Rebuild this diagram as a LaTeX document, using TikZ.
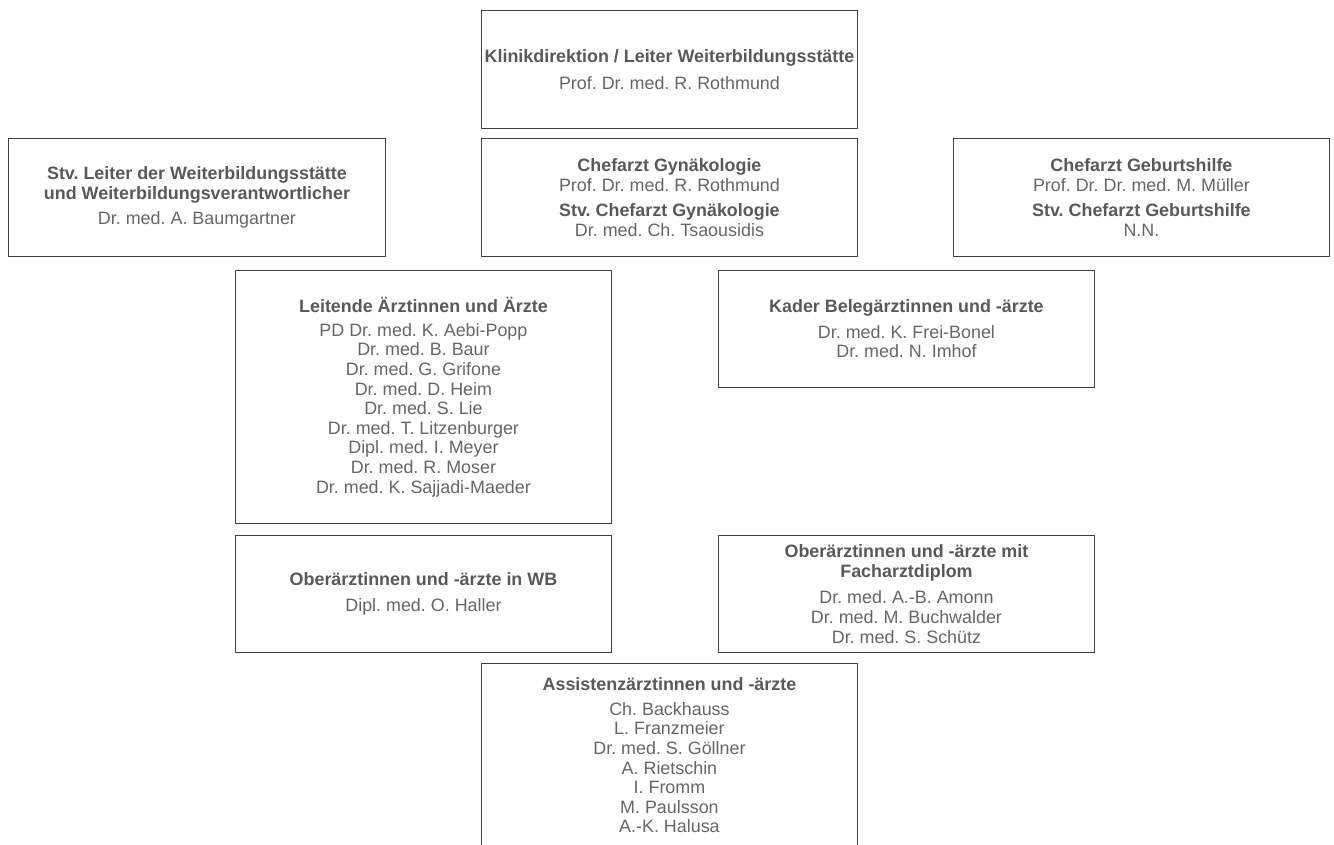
\documentclass[tikz,border=0pt]{standalone}
\usepackage{fontspec}
\setmainfont{Liberation Sans}
\frenchspacing
\definecolor{bordergray}{HTML}{404040}
\definecolor{titlegray}{HTML}{595959}
\definecolor{namegray}{HTML}{666666}
\newcommand{\ttl}[1]{{\bfseries\color{titlegray}#1}}
\tikzset{
  orgbox/.style={draw=bordergray, line width=0.9pt, fill=white, rectangle, anchor=north west,
    inner sep=0pt, align=center, text=namegray,
    font=\frenchspacing\fontsize{17.9}{19.6}\selectfont},
}
\begin{document}
\begin{tikzpicture}[x=1pt,y=-1pt]
\useasboundingbox[fill=white] (0,0) rectangle (1334,844);
\node[orgbox, minimum width=376pt, minimum height=118pt] (top) at (481,10)
  {\ttl{Klinikdirektion / Leiter Weiterbildungsstätte}\\[7pt] Prof. Dr. med. R. Rothmund};
\node[orgbox, minimum width=376pt, minimum height=118pt] (chef) at (481,138)
  {\ttl{Chefarzt Gynäkologie}\\ Prof. Dr. med. R. Rothmund\\[6pt]
   \ttl{Stv. Chefarzt Gynäkologie}\\ Dr. med. Ch. Tsaousidis};
\node[orgbox, minimum width=377pt, minimum height=118pt] (stv) at (8,138)
  {\ttl{Stv. Leiter der Weiterbildungsstätte}\\ \ttl{und Weiterbildungsverantwortlicher}\\[6pt]
   Dr. med. A. Baumgartner};
\node[orgbox, minimum width=376pt, minimum height=118pt] (geb) at (953,138)
  {\ttl{Chefarzt Geburtshilfe}\\ Prof. Dr. Dr. med. M. Müller\\[6pt]
   \ttl{Stv. Chefarzt Geburtshilfe}\\ N.N.};
\node[orgbox, minimum width=376pt, minimum height=253pt] (leit) at (235,270)
  {\ttl{Leitende Ärztinnen und Ärzte}\\[4.5pt]
   PD Dr. med. K. Aebi-Popp\\ Dr. med. B. Baur\\ Dr. med. G. Grifone\\
   Dr. med. D. Heim\\ Dr. med. S. Lie\\ Dr. med. T. Litzenburger\\
   Dipl. med. I. Meyer\\ Dr. med. R. Moser\\ Dr. med. K. Sajjadi-Maeder};
\node[orgbox, minimum width=376pt, minimum height=117pt] (kader) at (718,270)
  {\ttl{Kader Belegärztinnen und -ärzte}\\[6pt]
   Dr. med. K. Frei-Bonel\\ Dr. med. N. Imhof};
\node[orgbox, minimum width=376pt, minimum height=117pt] (wb) at (235,535)
  {\ttl{Oberärztinnen und -ärzte in WB}\\[6pt] Dipl. med. O. Haller};
\node[orgbox, minimum width=376pt, minimum height=117pt] (fa) at (718,535)
  {\ttl{Oberärztinnen und -ärzte mit}\\ \ttl{Facharztdiplom}\\[7pt]
   Dr. med. A.-B. Amonn\\ Dr. med. M. Buchwalder\\ Dr. med. S. Schütz};
\node[orgbox, minimum width=376pt, minimum height=184pt] (assi) at (481,663)
  {\ttl{Assistenzärztinnen und -ärzte}\\[5pt]
   Ch. Backhauss\\ L. Franzmeier\\ Dr. med. S. Göllner\\ A. Rietschin\\
   I. Fromm\\ M. Paulsson\\ A.-K. Halusa};
\end{tikzpicture}
\end{document}
